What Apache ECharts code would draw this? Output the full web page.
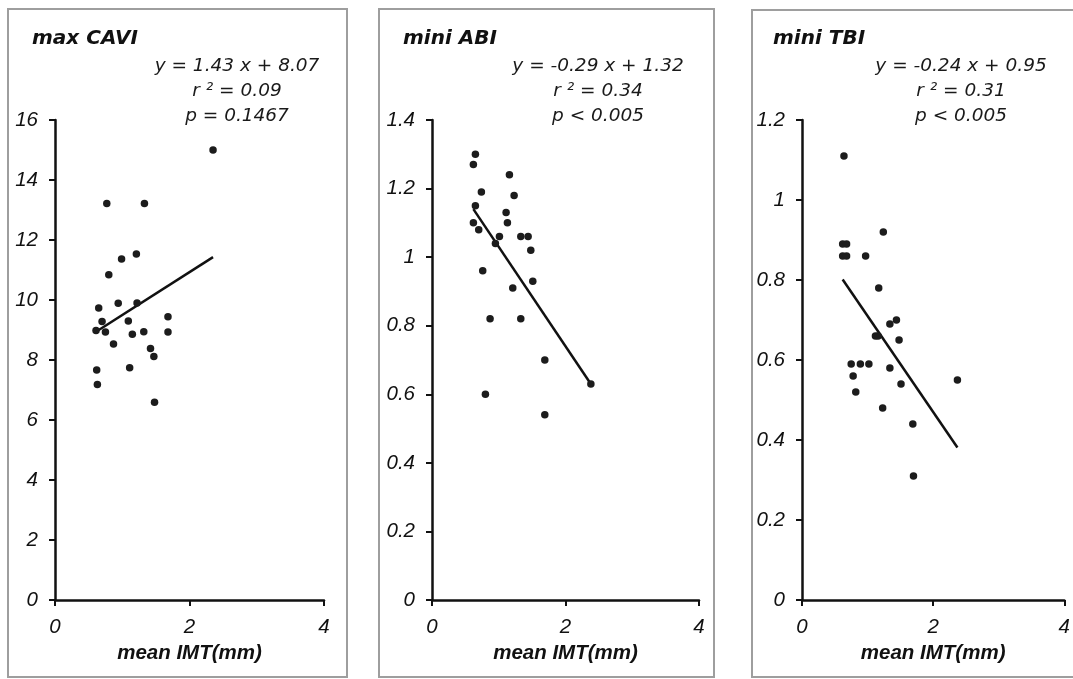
<!DOCTYPE html>
<html>
<head>
<meta charset="utf-8">
<script src="https://cdn.jsdelivr.net/npm/echarts@6/dist/echarts.min.js"></script>
<style>
html,body{margin:0;padding:0;background:#fff;}
#c{width:1073px;height:679px;}
</style>
</head>
<body>
<div id="c"></div>
<script>
// ---- Data ----
const panelTitles = ["max CAVI", "mini ABI", "mini TBI"];
const eqLines = [
  ["y = 1.43 x + 8.07", "r ² = 0.09", "p = 0.1467"],
  ["y = -0.29 x + 1.32", "r ² = 0.34", "p < 0.005"],
  ["y = -0.24 x + 0.95", "r ² = 0.31", "p < 0.005"]
];
const slopes = [1.43, -0.29, -0.24];
const intercepts = [8.07, 1.32, 0.95];
const xAxisName = "mean IMT(mm)";
const xTicks = [0, 4, 2];      // min, max, interval
const yMax = [16, 1.4, 1.2];
const yInterval = [2, 0.2, 0.2];

// mean IMT (mm) and max CAVI
const cavi_x = [2.35,0.77,1.33,0.99,1.21,0.80,0.65,0.94,1.22,0.70,0.61,0.75,1.09,1.15,1.32,1.68,1.68,0.87,1.42,1.47,0.62,1.11,0.63,1.48];
const cavi_y = [15.0,13.22,13.22,11.37,11.53,10.84,9.73,9.89,9.90,9.28,8.98,8.93,9.30,8.86,8.94,9.44,8.93,8.53,8.38,8.12,7.67,7.74,7.18,6.59];

// mean IMT (mm) and mini ABI
const abi_x = [0.65,0.62,1.16,0.74,1.23,0.65,1.11,0.62,1.13,0.70,1.01,0.95,1.33,1.44,1.48,0.76,1.51,1.21,0.87,1.33,1.69,2.38,0.80,1.69];
const abi_y = [1.30,1.27,1.24,1.19,1.18,1.15,1.13,1.10,1.10,1.08,1.06,1.04,1.06,1.06,1.02,0.96,0.93,0.91,0.82,0.82,0.70,0.63,0.60,0.54];

// mean IMT (mm) and mini TBI
const tbi_x = [0.64,1.24,0.62,0.68,0.62,0.68,0.97,1.17,1.34,1.44,1.12,1.16,1.48,0.75,0.89,1.02,1.34,0.78,2.37,1.51,0.82,1.23,1.69,1.70];
const tbi_y = [1.11,0.92,0.89,0.89,0.86,0.86,0.86,0.78,0.69,0.70,0.66,0.66,0.65,0.59,0.59,0.59,0.58,0.56,0.55,0.54,0.52,0.48,0.44,0.31];

const xs = [cavi_x, abi_x, tbi_x];
const ys = [cavi_y, abi_y, tbi_y];

// ---- Layout (styles / positions) ----
const grids = [
  {left: 55, top: 120, width: 269, height: 480},
  {left: 432, top: 120, width: 267, height: 480},
  {left: 802, top: 120, width: 264, height: 480}
];
const boxes = [
  {x: 8, y: 9, w: 339, h: 668},
  {x: 379, y: 9, w: 335, h: 668},
  {x: 752, y: 10, w: 340, h: 667}
];
const titlePos = [32, 403, 773];
const eqCenter = [237, 598, 961];
const eqY = [66, 91, 116];

const FONT = '"Liberation Sans", Arial, sans-serif';
const WIDE = '"DejaVu Sans", Verdana, sans-serif';

const chart = echarts.init(document.getElementById('c'), null, {renderer: 'canvas'});

const xAxes = [], yAxes = [], series = [], graphics = [];
for (let i = 0; i < 3; i++) {
  xAxes.push({
    gridIndex: i, type: 'value', min: xTicks[0], max: xTicks[1], interval: xTicks[2],
    axisLine: {show: true, onZero: false, lineStyle: {color: '#111', width: 2.5}},
    axisTick: {show: true, length: 6, lineStyle: {color: '#111', width: 2}},
    splitLine: {show: false},
    axisLabel: {color: '#111', fontSize: 20.5, fontStyle: 'italic', fontFamily: FONT, margin: 17},
    name: xAxisName, nameLocation: 'middle', nameGap: 43,
    nameTextStyle: {color: '#111', fontSize: 20.5, fontWeight: 'bold', fontStyle: 'italic', fontFamily: FONT}
  });
  yAxes.push({
    gridIndex: i, type: 'value', min: 0, max: yMax[i], interval: yInterval[i],
    axisLine: {show: true, onZero: false, lineStyle: {color: '#111', width: 2.5}},
    axisTick: {show: true, length: 6, lineStyle: {color: '#111', width: 2}},
    splitLine: {show: false},
    axisLabel: {color: '#111', fontSize: 20.5, fontStyle: 'italic', fontFamily: FONT, margin: 17}
  });
  const pts = xs[i].map((x, k) => [x, ys[i][k]]);
  series.push({
    type: 'scatter', xAxisIndex: i, yAxisIndex: i, data: pts,
    symbol: 'circle', symbolSize: 7.5,
    itemStyle: {color: '#1c1c1c', opacity: 1}, z: 3
  });
  const xmin = Math.min(...xs[i]), xmax = Math.max(...xs[i]);
  series.push({
    type: 'line', xAxisIndex: i, yAxisIndex: i,
    data: [[xmin, slopes[i] * xmin + intercepts[i]], [xmax, slopes[i] * xmax + intercepts[i]]],
    showSymbol: false, symbol: 'none', lineStyle: {color: '#111', width: 2.5}, z: 2, silent: true
  });
  graphics.push({
    type: 'rect', shape: {x: boxes[i].x, y: boxes[i].y, width: boxes[i].w, height: boxes[i].h},
    style: {fill: 'none', stroke: '#9e9e9e', lineWidth: 2}, silent: true, z: -1
  });
  graphics.push({
    type: 'text', x: titlePos[i], y: 39,
    style: {text: panelTitles[i], fill: '#111', font: 'italic bold 20px ' + WIDE, textVerticalAlign: 'middle', verticalAlign: 'middle'}
  });
  for (let j = 0; j < 3; j++) {
    graphics.push({
      type: 'text', x: eqCenter[i], y: eqY[j],
      style: {text: eqLines[i][j], fill: '#1a1a1a', font: 'italic 18.5px ' + WIDE,
              textAlign: 'center', align: 'center', textVerticalAlign: 'middle', verticalAlign: 'middle'}
    });
  }
}

chart.setOption({
  animation: false,
  backgroundColor: '#fff',
  grid: grids,
  xAxis: xAxes,
  yAxis: yAxes,
  series: series,
  graphic: graphics
});
</script>
</body>
</html>
